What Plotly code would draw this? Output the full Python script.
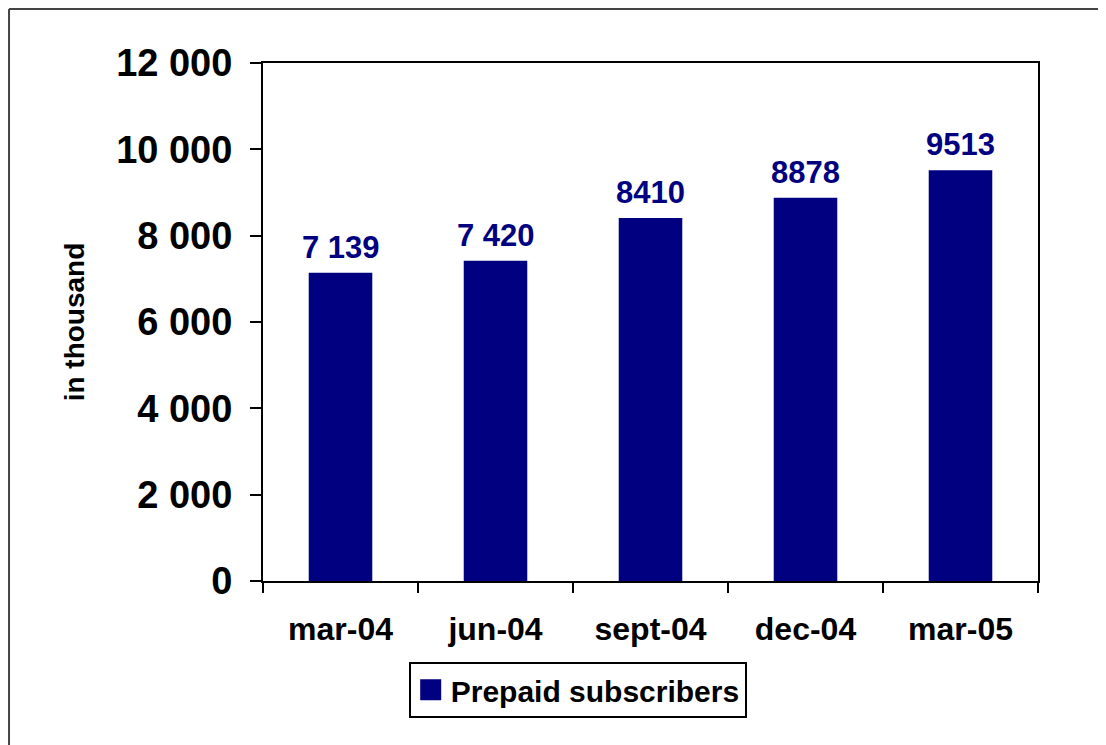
import plotly.graph_objects as go

categories = ["mar-04", "jun-04", "sept-04", "dec-04", "mar-05"]
values = [7139, 7420, 8410, 8878, 9513]
value_labels = ["7 139", "7 420", "8410", "8878", "9513"]
series_name = "Prepaid subscribers"
y_ticks = [0, 2000, 4000, 6000, 8000, 10000, 12000]

NAVY = "#000080"
FONT = "Liberation Sans, Arial, sans-serif"

fig = go.Figure()
fig.add_trace(go.Bar(
    x=categories,
    y=values,
    name=series_name,
    marker=dict(color=NAVY, line=dict(width=0)),
    showlegend=False,
))
# legend entry (square swatch) for the series
fig.add_trace(go.Scatter(
    x=[None], y=[None], mode="markers", name=series_name,
    marker=dict(symbol="square", size=16, color=NAVY, line=dict(color=NAVY, width=5)),
    showlegend=True, hoverinfo="skip",
))

annotations = [
    dict(x=c, y=v, xref="x", yref="y", text=t, showarrow=False,
         yanchor="bottom", xanchor="center", yshift=6,
         font=dict(family=FONT, size=31, color=NAVY, weight="bold"))
    for c, v, t in zip(categories, values, value_labels)
]

border = dict(color="#444444", width=2)

fig.update_layout(
    width=1106,
    height=745,
    margin=dict(l=255, r=76, t=55, b=172),
    paper_bgcolor="white",
    plot_bgcolor="white",
    separators=". ",
    bargap=0.59,
    font=dict(family=FONT, color="black", weight="bold"),
    showlegend=True,
    legend=dict(
        x=0.188, y=-0.156, xanchor="left", yanchor="top",
        orientation="h",
        bordercolor="black", borderwidth=2, bgcolor="white",
        font=dict(family=FONT, size=30, color="black", weight="bold"),
    ),
    annotations=annotations,
    xaxis=dict(
        type="category",
        showline=True, linecolor="black", linewidth=2, mirror=True,
        ticks="outside", tickson="boundaries", ticklen=10, tickwidth=2, tickcolor="black",
        tickfont=dict(family=FONT, size=32, color="black", weight="bold"),
        ticklabelstandoff=19,
        showgrid=False, zeroline=False,
    ),
    yaxis=dict(
        range=[0, 12000],
        tickvals=y_ticks,
        tickformat=",",
        showline=True, linecolor="black", linewidth=2, mirror=True,
        ticks="outside", ticklen=11, tickwidth=2, tickcolor="black",
        tickfont=dict(family=FONT, size=38, color="black", weight="bold"),
        ticklabelstandoff=10,
        showgrid=False, zeroline=False,
        title=dict(text="in thousand", standoff=23,
                   font=dict(family=FONT, size=28, color="black", weight="bold")),
    ),
    shapes=[
        dict(type="line", xref="paper", yref="paper",
             x0=-0.3277, x1=1.25, y0=1.1042, y1=1.1042, line=border, layer="below"),
        dict(type="line", xref="paper", yref="paper",
             x0=-0.3277, x1=-0.3277, y0=-0.45, y1=1.1042, line=border, layer="below"),
    ],
)

fig.write_html("out.html")
